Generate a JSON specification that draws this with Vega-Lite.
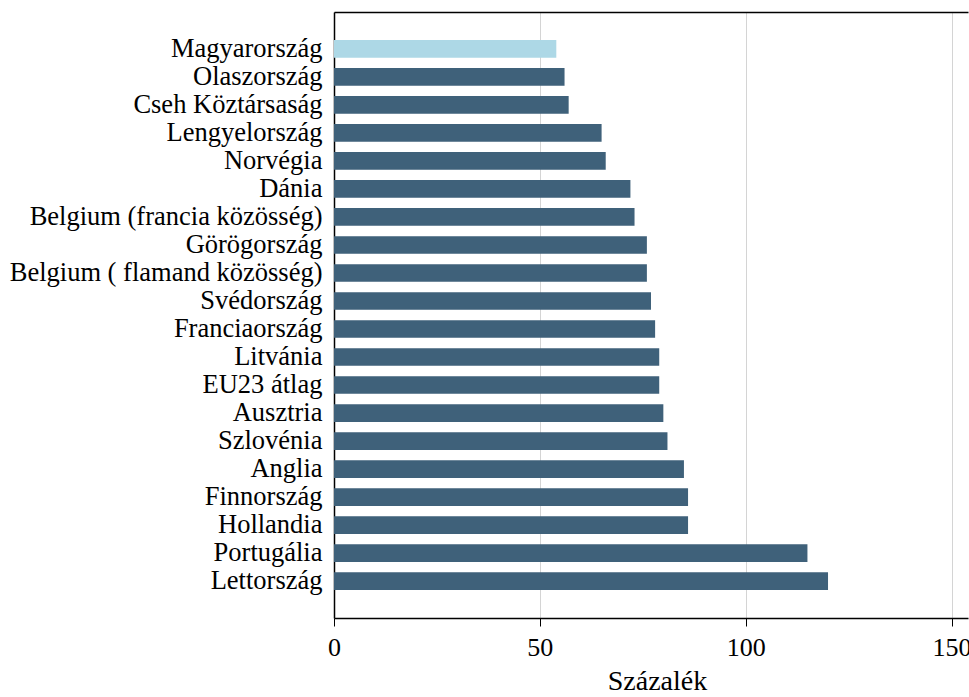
{
  "$schema": "https://vega.github.io/schema/vega-lite/v6.json",
  "autosize": "none",
  "width": 634,
  "height": 606,
  "padding": {"left": 334, "top": 12, "right": 1, "bottom": 79},
  "background": "white",
  "config": {
    "font": "Liberation Serif",
    "view": {"stroke": null}
  },
  "data": {
    "values": [
      {"orszag": "Magyarország", "ertek": 54, "kiemelt": "igen"},
      {"orszag": "Olaszország", "ertek": 56, "kiemelt": "nem"},
      {"orszag": "Cseh Köztársaság", "ertek": 57, "kiemelt": "nem"},
      {"orszag": "Lengyelország", "ertek": 65, "kiemelt": "nem"},
      {"orszag": "Norvégia", "ertek": 66, "kiemelt": "nem"},
      {"orszag": "Dánia", "ertek": 72, "kiemelt": "nem"},
      {"orszag": "Belgium (francia közösség)", "ertek": 73, "kiemelt": "nem"},
      {"orszag": "Görögország", "ertek": 76, "kiemelt": "nem"},
      {"orszag": "Belgium ( flamand közösség)", "ertek": 76, "kiemelt": "nem"},
      {"orszag": "Svédország", "ertek": 77, "kiemelt": "nem"},
      {"orszag": "Franciaország", "ertek": 78, "kiemelt": "nem"},
      {"orszag": "Litvánia", "ertek": 79, "kiemelt": "nem"},
      {"orszag": "EU23 átlag", "ertek": 79, "kiemelt": "nem"},
      {"orszag": "Ausztria", "ertek": 80, "kiemelt": "nem"},
      {"orszag": "Szlovénia", "ertek": 81, "kiemelt": "nem"},
      {"orszag": "Anglia", "ertek": 85, "kiemelt": "nem"},
      {"orszag": "Finnország", "ertek": 86, "kiemelt": "nem"},
      {"orszag": "Hollandia", "ertek": 86, "kiemelt": "nem"},
      {"orszag": "Portugália", "ertek": 115, "kiemelt": "nem"},
      {"orszag": "Lettország", "ertek": 120, "kiemelt": "nem"}
    ]
  },
  "layer": [
    {
      "mark": {"type": "bar"},
      "encoding": {
        "y": {
          "field": "orszag", "type": "nominal", "sort": null,
          "scale": {"paddingInner": 0.37, "paddingOuter": 1.05},
          "axis": {
            "title": null, "ticks": false, "domainColor": "black", "domainWidth": 1.5,
            "labelFontSize": 26.5, "labelColor": "black", "labelPadding": 12, "labelLimit": 400
          }
        },
        "x": {
          "field": "ertek", "type": "quantitative",
          "scale": {"domain": [0, 154], "nice": false},
          "axis": {
            "values": [0, 50, 100, 150], "title": "Százalék", "titleFontSize": 28, "titleFontWeight": "normal",
            "titleColor": "black", "titlePadding": 7, "titleX": 323,
            "labelFontSize": 26, "labelColor": "black", "labelPadding": 8, "labelFlush": false,
            "domainColor": "black", "domainWidth": 1.5, "tickColor": "black", "tickSize": 8,
            "grid": true, "gridColor": "#d4d4d4"
          }
        },
        "color": {
          "field": "kiemelt", "type": "nominal",
          "scale": {"domain": ["igen", "nem"], "range": ["#add8e6", "#3f617a"]},
          "legend": null
        }
      }
    },
    {
      "mark": {"type": "bar", "opacity": 0},
      "encoding": {
        "y": {"field": "orszag", "type": "nominal", "sort": null},
        "x": {
          "field": "ertek", "type": "quantitative",
          "axis": {"orient": "top", "labels": false, "ticks": false, "grid": false, "title": null, "domainColor": "black", "domainWidth": 1.5}
        }
      }
    }
  ],
  "resolve": {"axis": {"x": "independent"}}
}
